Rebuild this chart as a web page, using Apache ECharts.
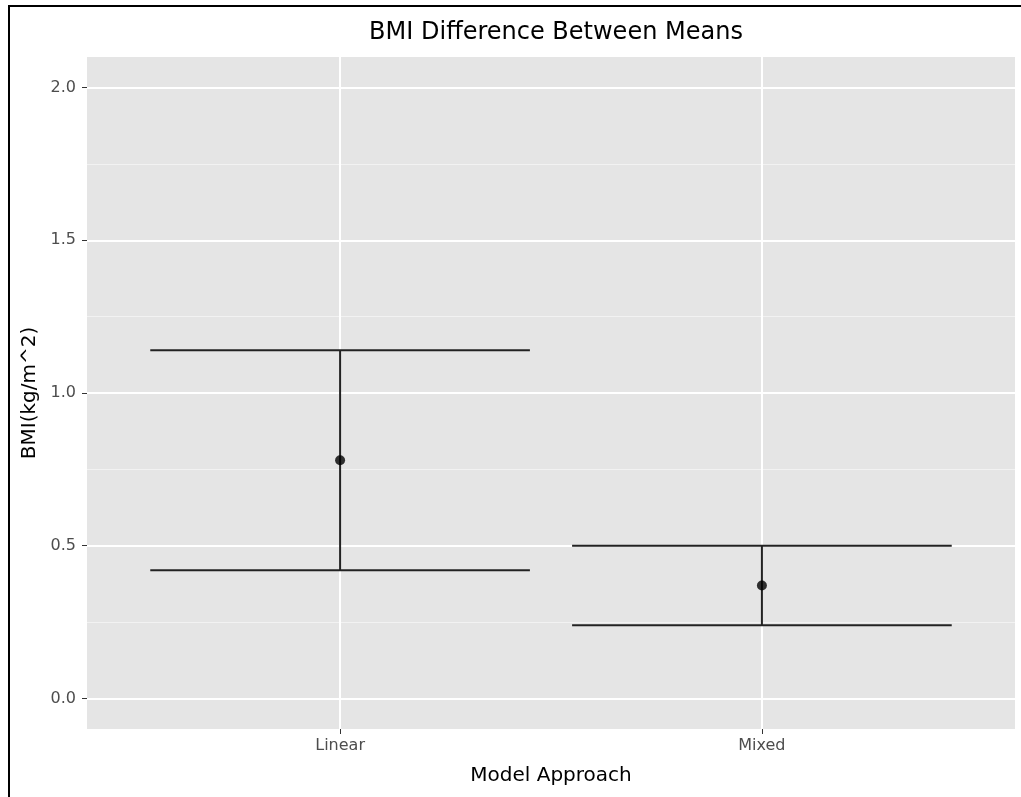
<!DOCTYPE html>
<html>
<head>
<meta charset="utf-8">
<script src="https://cdn.jsdelivr.net/npm/echarts@6/dist/echarts.min.js"></script>
<style>
  html, body { margin: 0; padding: 0; background: #fff; }
  #chart { width: 1021px; height: 797px; }
</style>
</head>
<body>
<div id="chart"></div>
<script>
// data
var categories = ['Linear', 'Mixed'];
var means = [0.78, 0.37];
var lower = [0.42, 0.24];
var upper = [1.14, 0.50];
var yTicks = [0, 0.5, 1, 1.5, 2];
var yMinor = [0.25, 0.75, 1.25, 1.75];
var barWidth = 0.9;

var xPos = categories.map(function (c, i) { return i + 1; });
var barData = categories.map(function (c, i) { return [xPos[i], lower[i], upper[i]]; });
var pointData = categories.map(function (c, i) { return [xPos[i], means[i]]; });

var chart = echarts.init(document.getElementById('chart'));

var option = {
  animation: false,
  backgroundColor: '#fff',
  textStyle: { fontFamily: 'DejaVu Sans, sans-serif' },
  title: {
    text: 'BMI Difference Between Means',
    left: 551, top: 16, textAlign: 'center',
    textStyle: { fontSize: 24, fontWeight: 'normal', color: '#000', fontFamily: 'DejaVu Sans' }
  },
  graphic: [{
    type: 'rect',
    shape: { x: 9, y: 6, width: 1100, height: 1000 },
    style: { fill: 'none', stroke: '#000', lineWidth: 2 },
    silent: true
  }],
  grid: { left: 87, right: 6, top: 57, bottom: 68, show: true, backgroundColor: '#e5e5e5', borderWidth: 0 },
  xAxis: {
    type: 'value', min: 0.4, max: 2.6,
    name: 'Model Approach', nameLocation: 'middle', nameGap: 37,
    nameTextStyle: { fontSize: 20, color: '#000' },
    axisLine: { show: false, onZero: false },
    axisTick: { show: true, customValues: xPos, length: 5, lineStyle: { color: '#333', width: 1 } },
    axisLabel: {
      customValues: xPos, color: '#4d4d4d', fontSize: 16, margin: 9,
      formatter: function (v) { return categories[Math.round(v) - 1] || ''; }
    },
    splitLine: { show: true, lineStyle: { color: '#fff', width: 2 } }
  },
  yAxis: [{
    type: 'value', min: -0.1, max: 2.1,
    name: 'BMI(kg/m^2)', nameLocation: 'middle', nameGap: 44,
    nameTextStyle: { fontSize: 20, color: '#000' },
    axisLine: { show: false, onZero: false },
    axisTick: { show: true, customValues: yTicks, length: 5, lineStyle: { color: '#333', width: 1 } },
    axisLabel: {
      customValues: yTicks, color: '#4d4d4d', fontSize: 16, margin: 11,
      formatter: function (v) { return v.toFixed(1); }
    },
    splitLine: { show: true, lineStyle: { color: '#fff', width: 2 } },
    z: 1
  }, {
    type: 'value', min: -0.1, max: 2.1, position: 'left',
    axisLine: { show: false },
    axisTick: { show: false, customValues: yMinor },
    axisLabel: { show: false, customValues: yMinor },
    splitLine: { show: true, lineStyle: { color: '#f2f2f2', width: 1 } },
    z: 0
  }],
  series: [{
    type: 'custom',
    data: barData,
    z: 3,
    renderItem: function (params, api) {
      var x = api.value(0);
      var lo = api.coord([x, api.value(1)]);
      var hi = api.coord([x, api.value(2)]);
      var l = api.coord([x - barWidth / 2, api.value(1)])[0];
      var r = api.coord([x + barWidth / 2, api.value(1)])[0];
      var st = { stroke: '#222', lineWidth: 2 };
      return {
        type: 'group',
        children: [
          { type: 'line', shape: { x1: lo[0], y1: lo[1], x2: hi[0], y2: hi[1] }, style: st },
          { type: 'line', shape: { x1: l, y1: lo[1], x2: r, y2: lo[1] }, style: st },
          { type: 'line', shape: { x1: l, y1: hi[1], x2: r, y2: hi[1] }, style: st }
        ]
      };
    }
  }, {
    type: 'scatter',
    data: pointData,
    symbolSize: 10,
    itemStyle: { color: '#000' },
    z: 4
  }]
};

chart.setOption(option);
</script>
</body>
</html>
